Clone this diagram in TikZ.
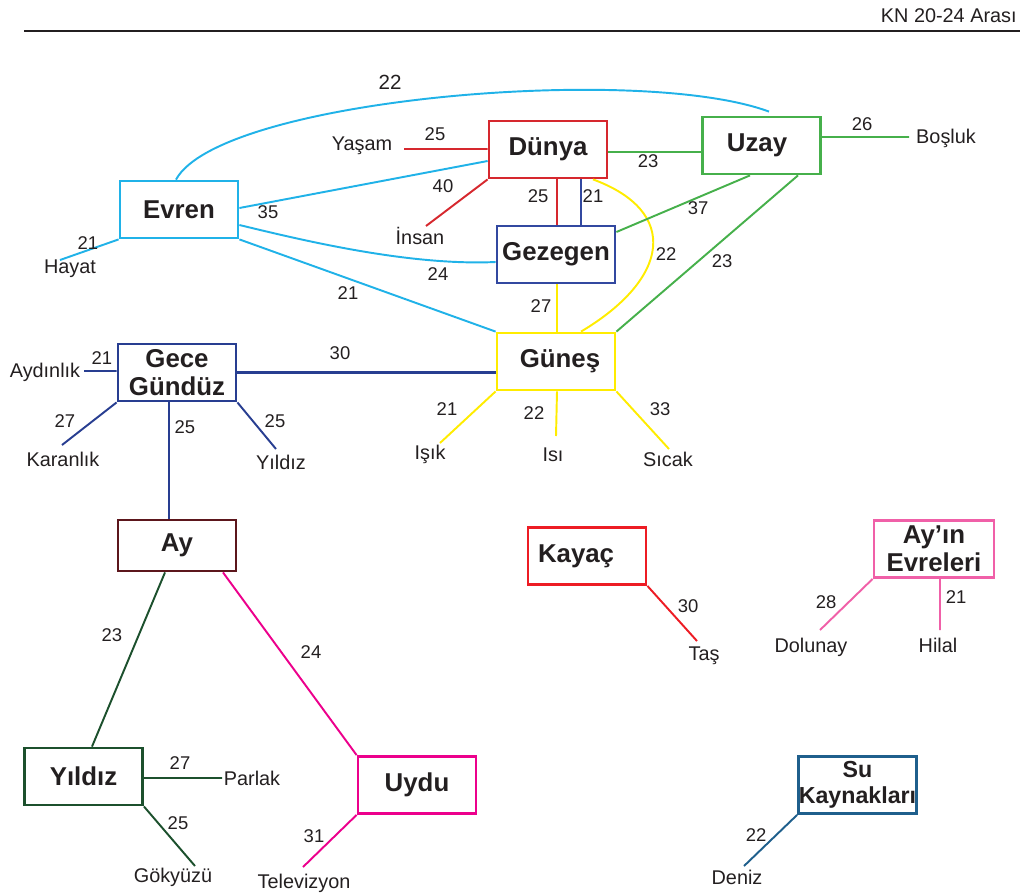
\documentclass[tikz,border=0pt]{standalone}
\usepackage{fontspec}
\setmainfont{Liberation Sans}
\definecolor{ink}{RGB}{35,31,32}
\definecolor{cEvren}{RGB}{32,178,232}
\definecolor{cDunya}{RGB}{214,40,46}
\definecolor{cUzay}{RGB}{70,176,75}
\definecolor{cGezegen}{RGB}{50,72,160}
\definecolor{cGunes}{RGB}{255,236,0}
\definecolor{cGece}{RGB}{40,62,145}
\definecolor{cAy}{RGB}{92,22,28}
\definecolor{cYildiz}{RGB}{28,80,45}
\definecolor{cUydu}{RGB}{236,0,140}
\definecolor{cKayac}{RGB}{237,28,36}
\definecolor{cEvreleri}{RGB}{240,96,168}
\definecolor{cSu}{RGB}{31,95,140}
\begin{document}
\begin{tikzpicture}[x=0.02cm,y=-0.02cm,
  box/.style={draw, line width=1.6pt, minimum width=2.36cm, minimum height=1.14cm,
    inner sep=0pt, align=center, text=ink, font=\bfseries\fontsize{14.7}{16}\selectfont},
  leaf/.style={inner sep=0pt, text=ink, font=\fontsize{11.3}{13}\selectfont},
  num/.style={inner sep=0pt, text=ink, font=\fontsize{10.5}{12}\selectfont},
  link/.style={line width=1.1pt}]
\useasboundingbox (0,0) rectangle (1020,893);

% header
\coordinate (ruleL) at (24,31);
\coordinate (ruleR) at (1020,31);
\draw[ink, line width=1.7pt] (ruleL) -- (ruleR);
\node[anchor=east, inner sep=0pt, text=ink, font=\fontsize{11.3}{13}\selectfont] (hdr) at (1017,16)
  {KN 20-24 Arası};

% concept boxes
\node[box, draw=cDunya] (dunya) at (548,149.5) {Dünya};
\node[box, draw=cUzay] (uzay) at (761.5,145.5) {Uzay\hspace{0.18cm}};
\node[box, draw=cEvren] (evren) at (179,209.5) {Evren};
\node[box, draw=cGezegen] (gezegen) at (556,254.5) {Gezegen};
\node[box, draw=cGunes] (gunes) at (556,361.5) {\hspace{0.16cm}Güneş};
\node[box, draw=cGece] (gece) at (177,372.5) {Gece\\Gündüz};
\node[box, draw=cAy, minimum height=1.02cm] (ay) at (177,545.5) {Ay};
\node[box, draw=cYildiz] (yildiz) at (83.5,776.5) {Yıldız};
\node[box, draw=cUydu] (uydu) at (417,785) {Uydu};
\node[box, draw=cKayac, text width=1.96cm, align=left] (kayac) at (587,556) {Kayaç};
\node[box, draw=cEvreleri, minimum width=2.4cm] (evreleri) at (934,549) {Ay’ın\\Evreleri};
\node[box, draw=cSu, font=\bfseries\fontsize{13.2}{15}\selectfont] (su) at (857.5,785) {Su\\Kaynakları};

% free ends of the leaf connectors
\coordinate (yasamE) at (404,149);
\coordinate (insanE) at (426,226);
\coordinate (hayatE) at (60,260);
\coordinate (boslukE) at (909,137);
\coordinate (aydinlikE) at (84,371);
\coordinate (karanlikE) at (62,445);
\coordinate (yildizLE) at (276,449);
\coordinate (isikE) at (440,443);
\coordinate (isiE) at (556,436);
\coordinate (sicakE) at (669,449);
\coordinate (parlakE) at (222,778);
\coordinate (gokyuzuE) at (195,866);
\coordinate (tvE) at (303,867);
\coordinate (tasE) at (697,641);
\coordinate (dolunayE) at (820,630);
\coordinate (hilalE) at (940,630);
\coordinate (denizE) at (744,866);

% Dünya
\draw[link,cDunya] ([yshift=0.01cm]dunya.west) -- (yasamE);
\draw[link,cDunya] (dunya.south west) -- (insanE);
\draw[link,cDunya] ([xshift=0.18cm]dunya.south) -- ([xshift=0.18cm]dunya.south |- gezegen.north);
\draw[link,cGezegen] ([xshift=0.66cm]dunya.south) -- ([xshift=0.66cm]dunya.south |- gezegen.north);
\draw[link,cUzay] ([yshift=-0.05cm]dunya.east) -- ([yshift=-0.05cm]dunya.east -| uzay.west);
\draw[link,cGunes] ([xshift=0.9cm]dunya.south) .. controls +(87,32) and +(89,-53) .. ([xshift=0.5cm]gunes.north);

% Evren
\draw[link,cEvren] ([xshift=-0.06cm]evren.north) .. controls +(44,-81) and +(-129,-48) .. ([xshift=0.15cm,yshift=0.08cm]uzay.north);
\draw[link,cEvren] ([yshift=0.03cm]evren.east) -- ([yshift=-0.23cm]dunya.west);
\draw[link,cEvren] ([yshift=-0.31cm]evren.east) .. controls +(62,15) and +(-87,4) .. ([yshift=-0.15cm]gezegen.west);
\draw[link,cEvren] (evren.south east) -- (gunes.north west);
\draw[link,cEvren] (evren.south west) -- (hayatE);

% Uzay
\draw[link,cUzay] ([yshift=0.17cm]uzay.east) -- (boslukE);
\draw[link,cUzay] ([yshift=0.45cm]gezegen.east) -- ([xshift=-0.23cm]uzay.south);
\draw[link,cUzay] (gunes.north east) -- ([xshift=0.73cm]uzay.south);

% Gezegen and Güneş
\draw[link,cGunes] ([xshift=0.02cm]gezegen.south) -- ([xshift=0.02cm]gunes.north);
\draw[link,cGunes] (gunes.south west) -- (isikE);
\draw[link,cGunes] ([xshift=0.02cm]gunes.south) -- (isiE);
\draw[link,cGunes] (gunes.south east) -- (sicakE);

% Gece Gündüz
\draw[cGece, line width=1.5pt] (gece.east) -- (gece.east -| gunes.west);
\draw[link,cGece] ([yshift=0.03cm]gece.west) -- (aydinlikE);
\draw[link,cGece] (gece.south west) -- (karanlikE);
\draw[link,cGece] (gece.south east) -- (yildizLE);
\draw[cGece, line width=1.3pt] ([xshift=-0.16cm]gece.south) -- ([xshift=-0.16cm]gece.south |- ay.north);

% Ay
\draw[link,cYildiz] ([xshift=-0.24cm]ay.south) -- ([xshift=0.17cm]yildiz.north);
\draw[link,cUydu] ([xshift=0.92cm]ay.south) -- (uydu.north west);

% lower groups
\draw[link,cYildiz] ([yshift=-0.03cm]yildiz.east) -- (parlakE);
\draw[link,cYildiz] (yildiz.south east) -- (gokyuzuE);
\draw[link,cUydu] (uydu.south west) -- (tvE);
\draw[link,cKayac] (kayac.south east) -- (tasE);
\draw[link,cEvreleri] (evreleri.south west) -- (dolunayE);
\draw[link,cEvreleri] ([xshift=0.12cm]evreleri.south) -- (hilalE);
\draw[link,cSu] (su.south west) -- (denizE);

% leaf words
\node[leaf] (yasam) at (362,146) {Yaşam};
\node[leaf] (insan) at (420,236) {İnsan};
\node[leaf] (hayat) at (70,269) {Hayat};
\node[leaf] (bosluk) at (946,138) {Boşluk};
\node[leaf] (aydinlik) at (45,372) {Aydınlık};
\node[leaf] (karanlik) at (63,459) {Karanlık};
\node[leaf] (yildizL) at (281,462) {Yıldız};
\node[leaf] (isik) at (430,454) {Işık};
\node[leaf] (isi) at (553,455) {Isı};
\node[leaf] (sicak) at (668,459) {Sıcak};
\node[leaf] (parlak) at (252,778) {Parlak};
\node[leaf] (gokyuzu) at (173,877) {Gökyüzü};
\node[leaf] (tv) at (304,883) {Televizyon};
\node[leaf] (tas) at (704,656) {Taş};
\node[leaf] (dolunay) at (811,647) {Dolunay};
\node[leaf] (hilal) at (938,645) {Hilal};
\node[leaf] (deniz) at (737,877) {Deniz};

% numbers
\node[num, font=\fontsize{11.7}{13}\selectfont] (n01) at (390,82) {22};
\node[num] (n02) at (435,134) {25};
\node[num] (n03) at (443,186) {40};
\node[num] (n04) at (268,212) {35};
\node[num] (n05) at (438,274) {24};
\node[num] (n06) at (348,293) {21};
\node[num] (n07) at (88,243) {21};
\node[num] (n08) at (648,161) {23};
\node[num] (n09) at (538,196) {25};
\node[num] (n10) at (593,196) {21};
\node[num] (n11) at (666,254) {22};
\node[num] (n12) at (698,208) {37};
\node[num] (n13) at (722,261) {23};
\node[num] (n14) at (862,124) {26};
\node[num] (n15) at (541,306) {27};
\node[num] (n16) at (340,353) {30};
\node[num] (n17) at (102,358) {21};
\node[num] (n18) at (65,421) {27};
\node[num] (n19) at (185,427) {25};
\node[num] (n20) at (275,421) {25};
\node[num] (n21) at (447,409) {21};
\node[num] (n22) at (534,413) {22};
\node[num] (n23) at (660,409) {33};
\node[num] (n24) at (112,635) {23};
\node[num] (n25) at (311,652) {24};
\node[num] (n26) at (180,763) {27};
\node[num] (n27) at (178,823) {25};
\node[num] (n28) at (314,836) {31};
\node[num] (n29) at (688,606) {30};
\node[num] (n30) at (826,602) {28};
\node[num] (n31) at (956,597) {21};
\node[num] (n32) at (756,835) {22};
\end{tikzpicture}
\end{document}
